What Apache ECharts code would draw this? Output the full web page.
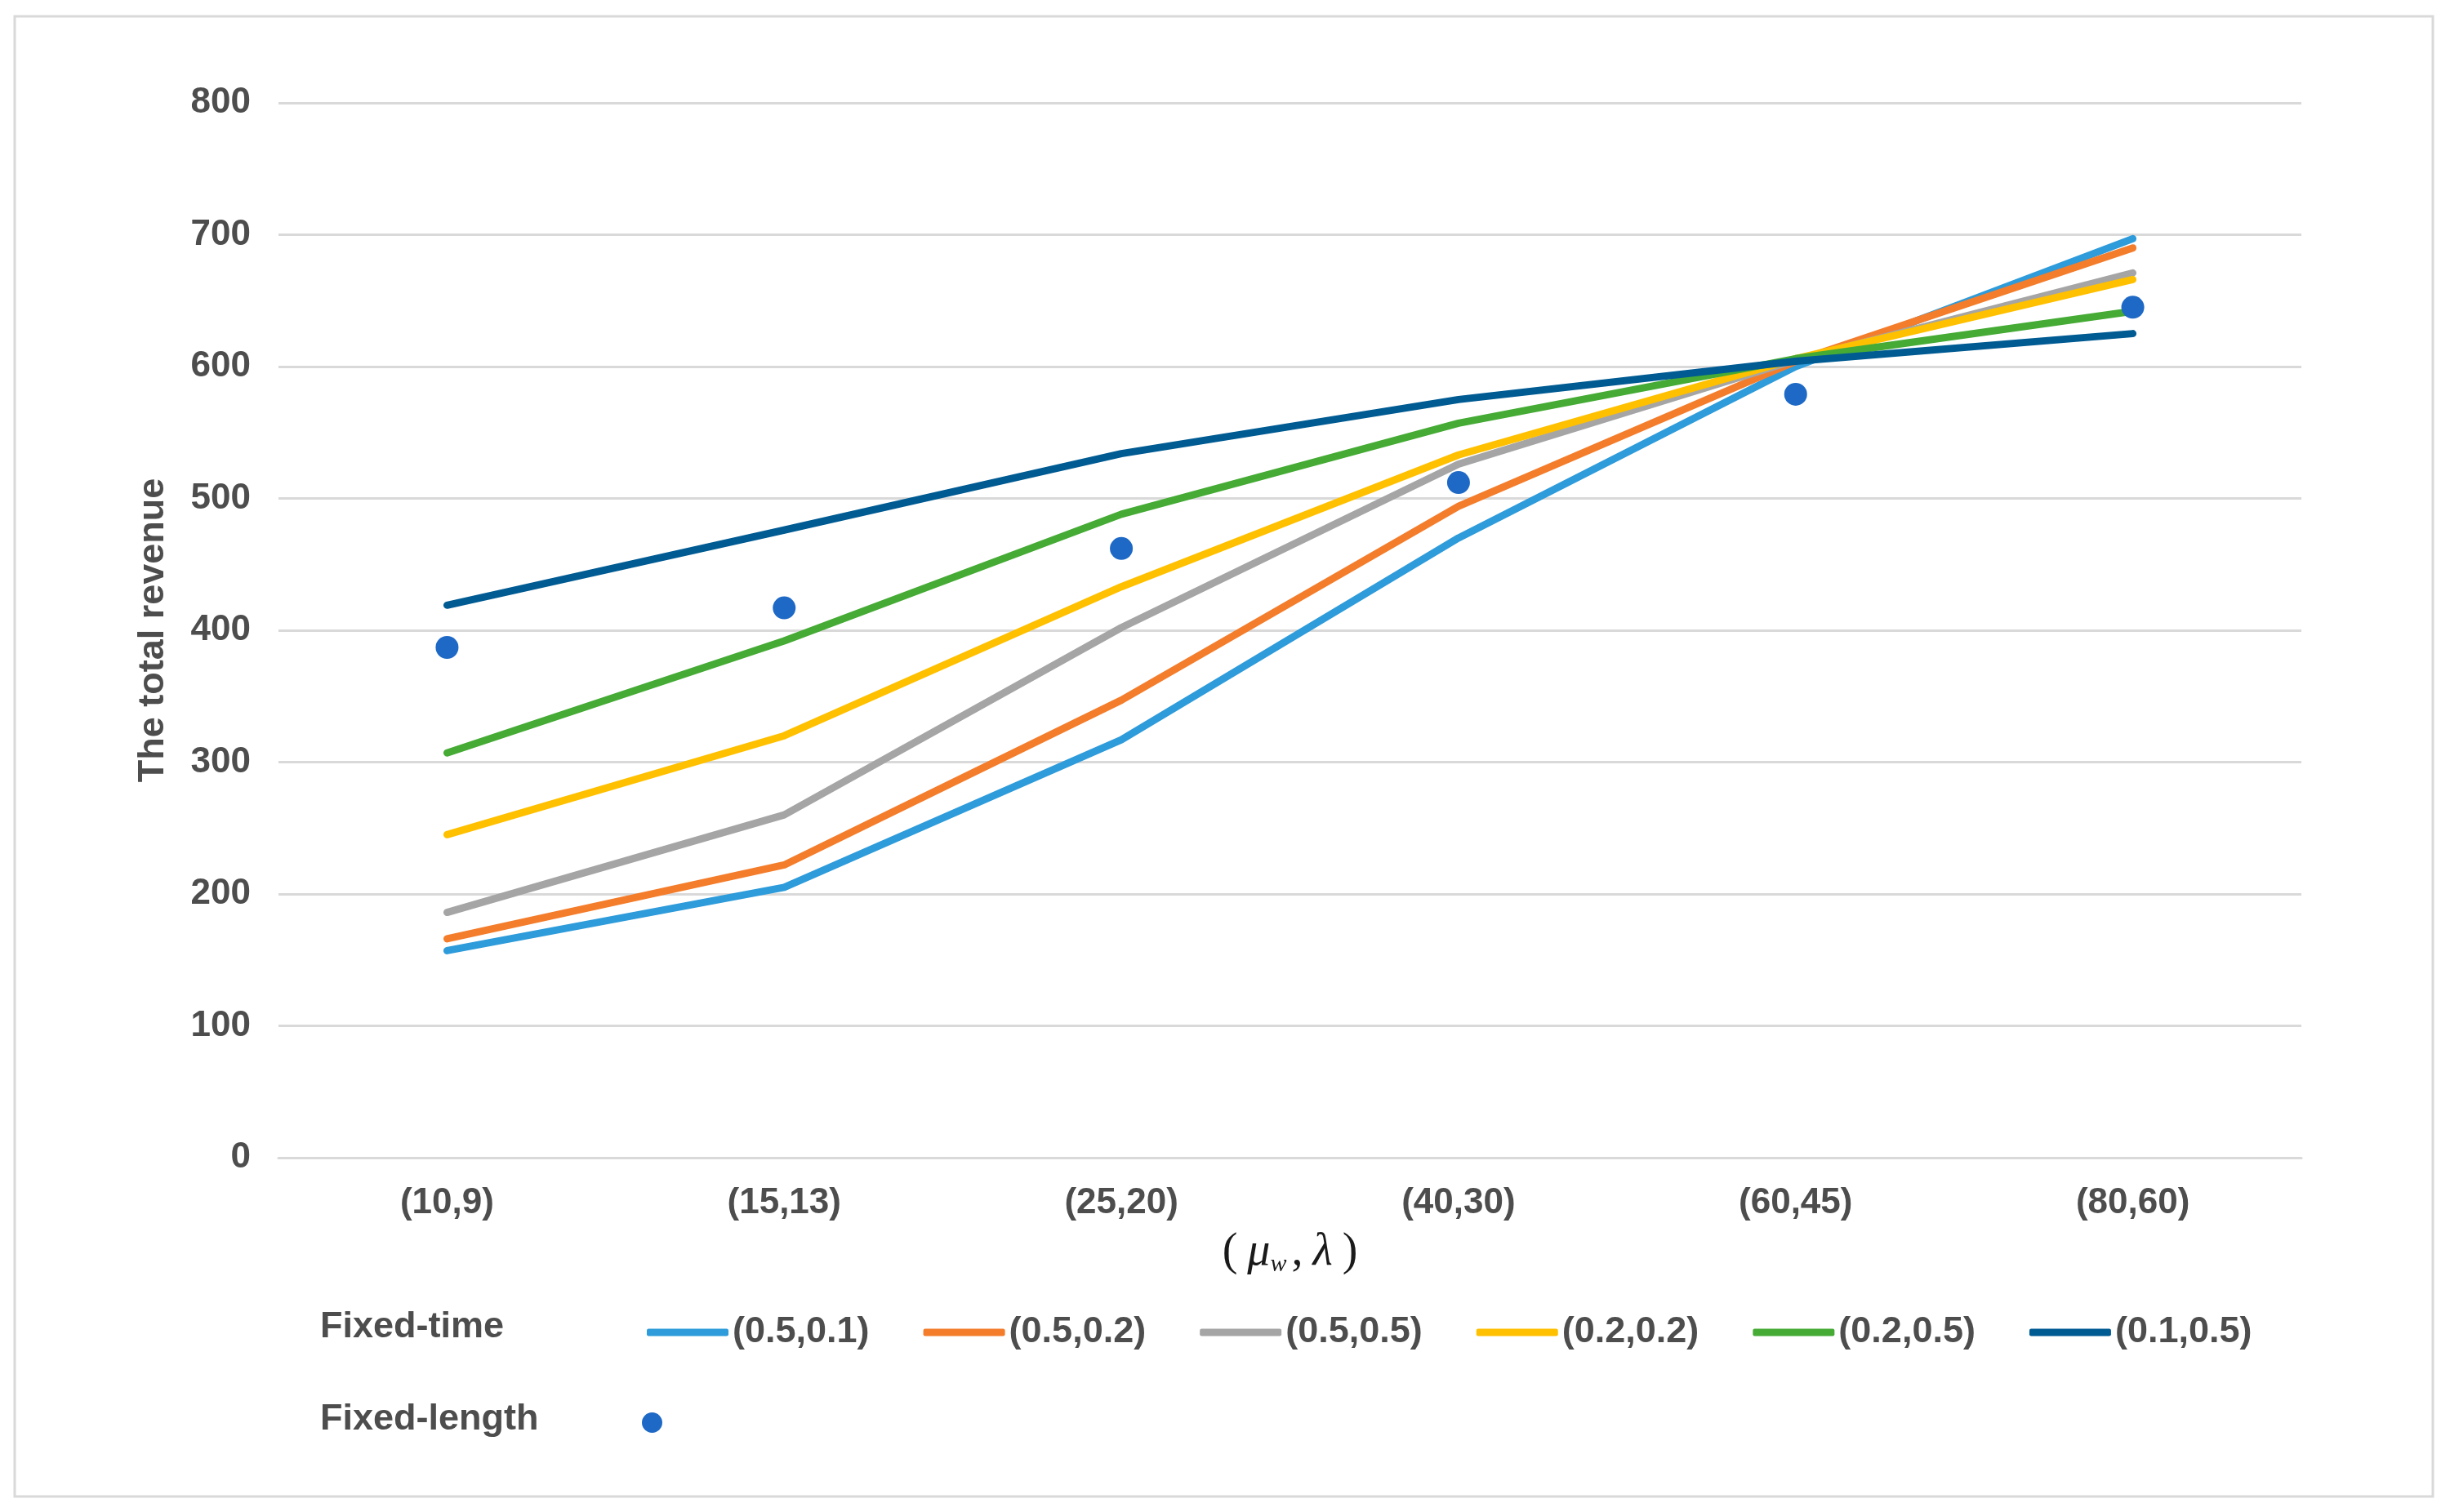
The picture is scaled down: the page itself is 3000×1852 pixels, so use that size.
<!DOCTYPE html>
<html>
<head>
<meta charset="utf-8">
<script src="https://cdn.jsdelivr.net/npm/echarts@6/dist/echarts.min.js"></script>
<style>
html,body{margin:0;padding:0;background:#fff;}
#chart{width:3000px;height:1852px;}
</style>
</head>
<body>
<div id="chart"></div>
<script>
const categories = ['(10,9)', '(15,13)', '(25,20)', '(40,30)', '(60,45)', '(80,60)'];
const s05_01 = [157, 205, 317, 470, 600, 697];
const s05_02 = [166, 222, 347, 494, 604, 690];
const s05_05 = [186, 260, 402, 526, 605, 671];
const s02_02 = [245, 320, 433, 533, 606, 666];
const s02_05 = [307, 392, 488, 557, 606, 642];
const s01_05 = [419, 476, 534, 575, 604, 625];
const fixedLength = [387, 417, 462, 512, 579, 645];
const lineNames = ['(0.5,0.1)', '(0.5,0.2)', '(0.5,0.5)', '(0.2,0.2)', '(0.2,0.5)', '(0.1,0.5)'];
const lineData = [s05_01, s05_02, s05_05, s02_02, s02_05, s01_05];
const lineColors = ['#2E9BDA', '#F47D2C', '#A5A5A5', '#FFC000', '#45AB35', '#005B93'];
const dotColor = '#1E69C6';
const textColor = '#4D4D4D';
const font = '"Liberation Sans", Arial, sans-serif';
const serif = '"Liberation Serif", "Times New Roman", serif';

const chart = echarts.init(document.getElementById('chart'), null, {width: 3000, height: 1852, renderer: 'canvas'});

const series = lineData.map((d, i) => ({
  name: lineNames[i],
  type: 'line',
  data: d,
  symbol: 'none',
  showSymbol: false,
  lineStyle: {width: 9, color: lineColors[i], cap: 'round', join: 'round'},
  itemStyle: {color: lineColors[i]},
  z: 2 + i
}));
series.push({
  name: 'Fixed-length',
  type: 'scatter',
  data: fixedLength,
  symbol: 'circle',
  symbolSize: 28,
  itemStyle: {color: dotColor, opacity: 1},
  z: 10
});

chart.setOption({
  backgroundColor: '#ffffff',
  animation: false,
  grid: {left: 341, right: 182, top: 126, bottom: 434, containLabel: false},
  xAxis: {
    type: 'category',
    data: categories,
    boundaryGap: true,
    axisLine: {show: true, lineStyle: {color: '#D9D9D9', width: 3}},
    axisTick: {show: false},
    axisLabel: {fontFamily: font, fontWeight: 'bold', fontSize: 44, lineHeight: 44, color: textColor, margin: 34},
    name: '{p|(}{g|}{i|μ}{s|w}{p|,}{g|}{i|λ}{g|}{p|)}',
    nameLocation: 'middle',
    nameGap: 86,
    nameTextStyle: {
      rich: {
        p: {fontFamily: serif, fontSize: 56, lineHeight: 60, color: '#1a1a1a', verticalAlign: 'middle'},
        g: {width: 12, fontSize: 56, lineHeight: 60},
        i: {fontFamily: serif, fontStyle: 'italic', fontSize: 56, lineHeight: 60, color: '#1a1a1a', verticalAlign: 'middle'},
        s: {fontFamily: serif, fontStyle: 'italic', fontSize: 30, lineHeight: 30, color: '#1a1a1a', verticalAlign: 'bottom', padding: [0, 6, 0, 0]}
      }
    }
  },
  yAxis: {
    type: 'value',
    min: 0,
    max: 800,
    interval: 100,
    axisLine: {show: false},
    axisTick: {show: false},
    splitLine: {show: true, lineStyle: {color: '#D9D9D9', width: 3}},
    axisLabel: {fontFamily: font, fontWeight: 'bold', fontSize: 44, color: textColor, margin: 34},
    name: 'The total revenue',
    nameLocation: 'middle',
    nameGap: 128,
    nameTextStyle: {fontFamily: font, fontWeight: 'bold', fontSize: 45, lineHeight: 50, color: textColor}
  },
  legend: [
    {
      data: lineNames,
      left: 787,
      top: 1602,
      orient: 'horizontal',
      icon: 'roundRect',
      itemWidth: 100,
      itemHeight: 9,
      itemGap: 66,
      textStyle: {fontFamily: font, fontWeight: 'bold', fontSize: 45, lineHeight: 50, color: textColor},
      selectedMode: false
    },
    {
      data: ['Fixed-length'],
      left: 781,
      top: 1725,
      icon: 'circle',
      itemWidth: 25,
      itemHeight: 25,
      formatter: function () { return ''; },
      textStyle: {fontSize: 10, lineHeight: 10},
      selectedMode: false
    }
  ],
  graphic: [
    {
      type: 'rect',
      shape: {x: 18, y: 20, width: 2961, height: 1813},
      style: {fill: null, stroke: '#D9D9D9', lineWidth: 3},
      silent: true,
      z: -1
    },
    {
      type: 'text',
      style: {x: 392, y: 1626, text: 'Fixed-time', font: 'bold 45px "Liberation Sans", Arial, sans-serif', fill: textColor, verticalAlign: 'middle'}
    },
    {
      type: 'text',
      style: {x: 392, y: 1739, text: 'Fixed-length', font: 'bold 45px "Liberation Sans", Arial, sans-serif', fill: textColor, verticalAlign: 'middle'}
    }
  ],
  series: series
});
</script>
</body>
</html>
